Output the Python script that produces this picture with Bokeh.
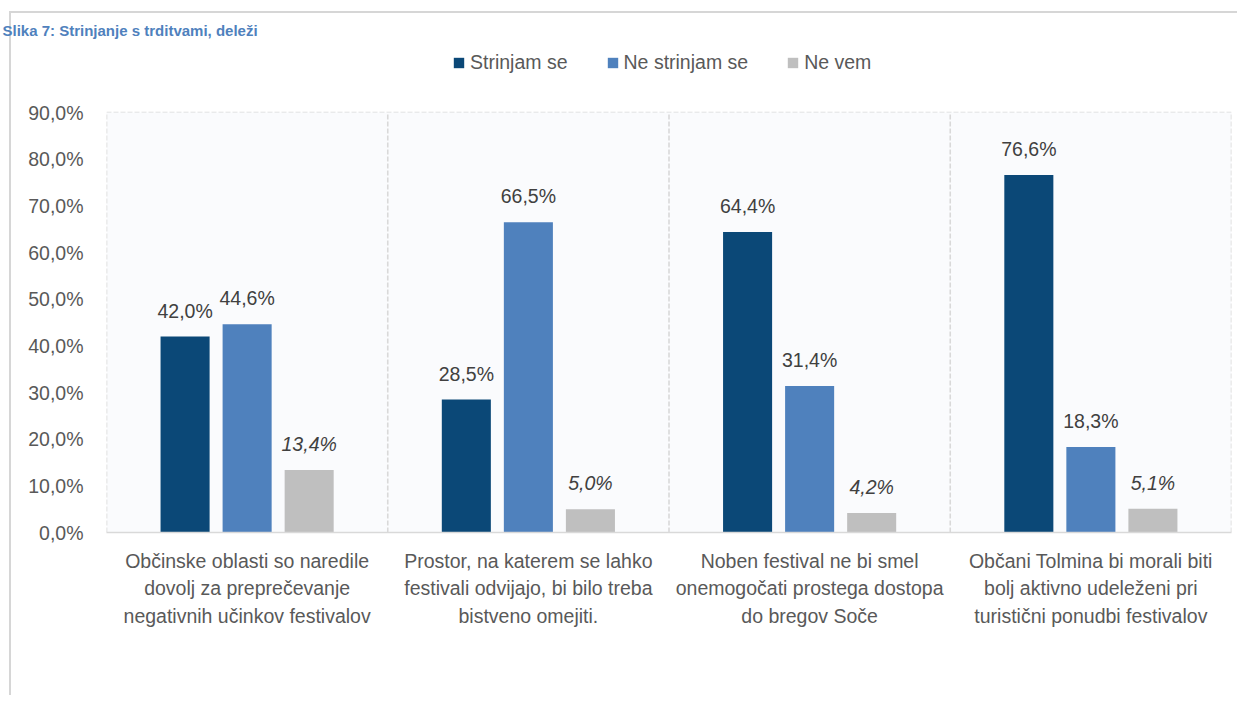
from bokeh.plotting import figure
from bokeh.models import FixedTicker, Legend, LegendItem, ColumnDataSource, Range1d
from bokeh.core.properties import value
from bokeh.embed import file_html
from bokeh.resources import INLINE

# ---------------- data ----------------
categories = [
    "Občinske oblasti so naredile\ndovolj za preprečevanje\nnegativnih učinkov festivalov",
    "Prostor, na katerem se lahko\nfestivali odvijajo, bi bilo treba\nbistveno omejiti.",
    "Noben festival ne bi smel\nonemogočati prostega dostopa\ndo bregov Soče",
    "Občani Tolmina bi morali biti\nbolj aktivno udeleženi pri\nturistični ponudbi festivalov",
]
series_names = ["Strinjam se", "Ne strinjam se", "Ne vem"]
strinjam = [42.0, 28.5, 64.4, 76.6]
ne_strinjam = [44.6, 66.5, 31.4, 18.3]
ne_vem = [13.4, 5.0, 4.2, 5.1]
y_ticks = [0, 10, 20, 30, 40, 50, 60, 70, 80, 90]
title_text = "Slika 7: Strinjanje s trditvami, deleži"

colors = ["#0B4877", "#4F81BD", "#BFBFBF"]
FONT = "Liberation Sans"
FS = "19.5px"
TXT = "#595959"
GRID = "#D9D9D9"


def pct(v):
    return f"{v:.1f}%".replace(".", ",")


# layout (pixels): plot area spans y 112..532; the frame reaches up to y 40 so the
# legend can sit inside it above the plot area
W, H = 1237, 695
LEFT, RIGHT, BOTTOM = 106, 1231, 532
AREA_TOP, FRAME_TOP = 112, 40
y_max = y_ticks[-1]
y_end = y_max * (BOTTOM - FRAME_TOP) / (BOTTOM - AREA_TOP)
n = len(categories)

p = figure(width=W, height=H, x_range=Range1d(0, n), y_range=Range1d(0, y_end),
           output_backend="svg", toolbar_location=None,
           min_border_left=LEFT, min_border_right=W - RIGHT,
           min_border_top=FRAME_TOP, min_border_bottom=H - BOTTOM)
p.background_fill_color = "white"
p.border_fill_color = None
p.outline_line_color = None
# outer chart frame (left and top edges), drawn behind the transparent canvas border
p.styles = {
    "background": ("linear-gradient(#D6D6D6, #D6D6D6) 9px 11px / 2px 100% no-repeat, "
                   "linear-gradient(#D6D6D6, #D6D6D6) 9px 11px / 100% 2px no-repeat, white"),
}

# title (cut off in the original, kept as text at the top)
p.title.text = title_text
p.title.text_font = FONT
p.title.text_font_style = "bold"
p.title.text_font_size = "15px"
p.title.text_color = "#4F81BD"
p.title.align = "left"
p.title.vertical_align = "top"
p.title.offset = -104
p.title.standoff = 0

# plot-area background
p.quad(left=[0], right=[n], bottom=[0], top=[y_max], fill_color="#FAFBFD", line_color=None)

# y axis
p.yaxis.ticker = FixedTicker(ticks=y_ticks)
p.yaxis.major_label_overrides = {t: pct(t) for t in y_ticks}
p.yaxis.axis_line_color = None
p.yaxis.major_tick_line_color = None
p.yaxis.minor_tick_line_color = None
p.yaxis.major_tick_out = 0
p.yaxis.major_tick_in = 0
p.yaxis.major_label_standoff = 23
p.yaxis.major_label_text_font = FONT
p.yaxis.major_label_text_font_size = FS
p.yaxis.major_label_text_color = TXT

# x axis
x_centers = [i + 0.5 for i in range(n)]
p.xaxis.ticker = FixedTicker(ticks=x_centers)
p.xaxis.major_label_overrides = {c: lab for c, lab in zip(x_centers, categories)}
p.xaxis.axis_line_color = GRID
p.xaxis.axis_line_width = 1.5
p.xaxis.major_tick_line_color = None
p.xaxis.minor_tick_line_color = None
p.xaxis.major_tick_out = 0
p.xaxis.major_tick_in = 0
p.xaxis.major_label_standoff = 17
p.xaxis.major_label_text_font = FONT
p.xaxis.major_label_text_font_size = FS
p.xaxis.major_label_text_color = TXT
p.xaxis.major_label_text_line_height = 1.25

# grids: horizontal dashed lines, vertical dashed category separators
p.ygrid.ticker = FixedTicker(ticks=y_ticks)
p.ygrid.grid_line_color = GRID
p.ygrid.grid_line_dash = "5 2"
p.ygrid.grid_line_width = 1.3
p.xgrid.visible = False
sep_x = list(range(n + 1))
p.segment(x0=sep_x, x1=sep_x, y0=[0] * len(sep_x), y1=[y_max] * len(sep_x),
          line_color=GRID, line_dash="5 2", line_width=1.6)

# bars
series = [strinjam, ne_strinjam, ne_vem]
offsets = [-0.2206, 0.0, 0.2206]
bar_w = 0.1744
items = []
for name, vals, col, off in zip(series_names, series, colors, offsets):
    src = ColumnDataSource(dict(x=[c + off for c in x_centers], top=vals,
                                lab=[pct(v) for v in vals]))
    r = p.vbar(x="x", top="top", width=bar_w, source=src, fill_color=col, line_color=None)
    items.append(LegendItem(label=name, renderers=[r]))
    p.text(x="x", y="top", text="lab", source=src, text_align="center",
           text_baseline="alphabetic", y_offset=-26, text_font=value(FONT),
           text_font_size=FS, text_color="#404040",
           text_font_style="italic" if name == "Ne vem" else "normal")

legend = Legend(items=items, orientation="horizontal", location=(346, 458),
                glyph_width=13, glyph_height=13, label_standoff=5, spacing=38,
                padding=0, margin=0, border_line_color=None, background_fill_alpha=0,
                label_text_font=FONT, label_text_font_size=FS, label_text_color=TXT)
p.add_layout(legend)

open("out.html", "w").write(file_html(p, INLINE))
